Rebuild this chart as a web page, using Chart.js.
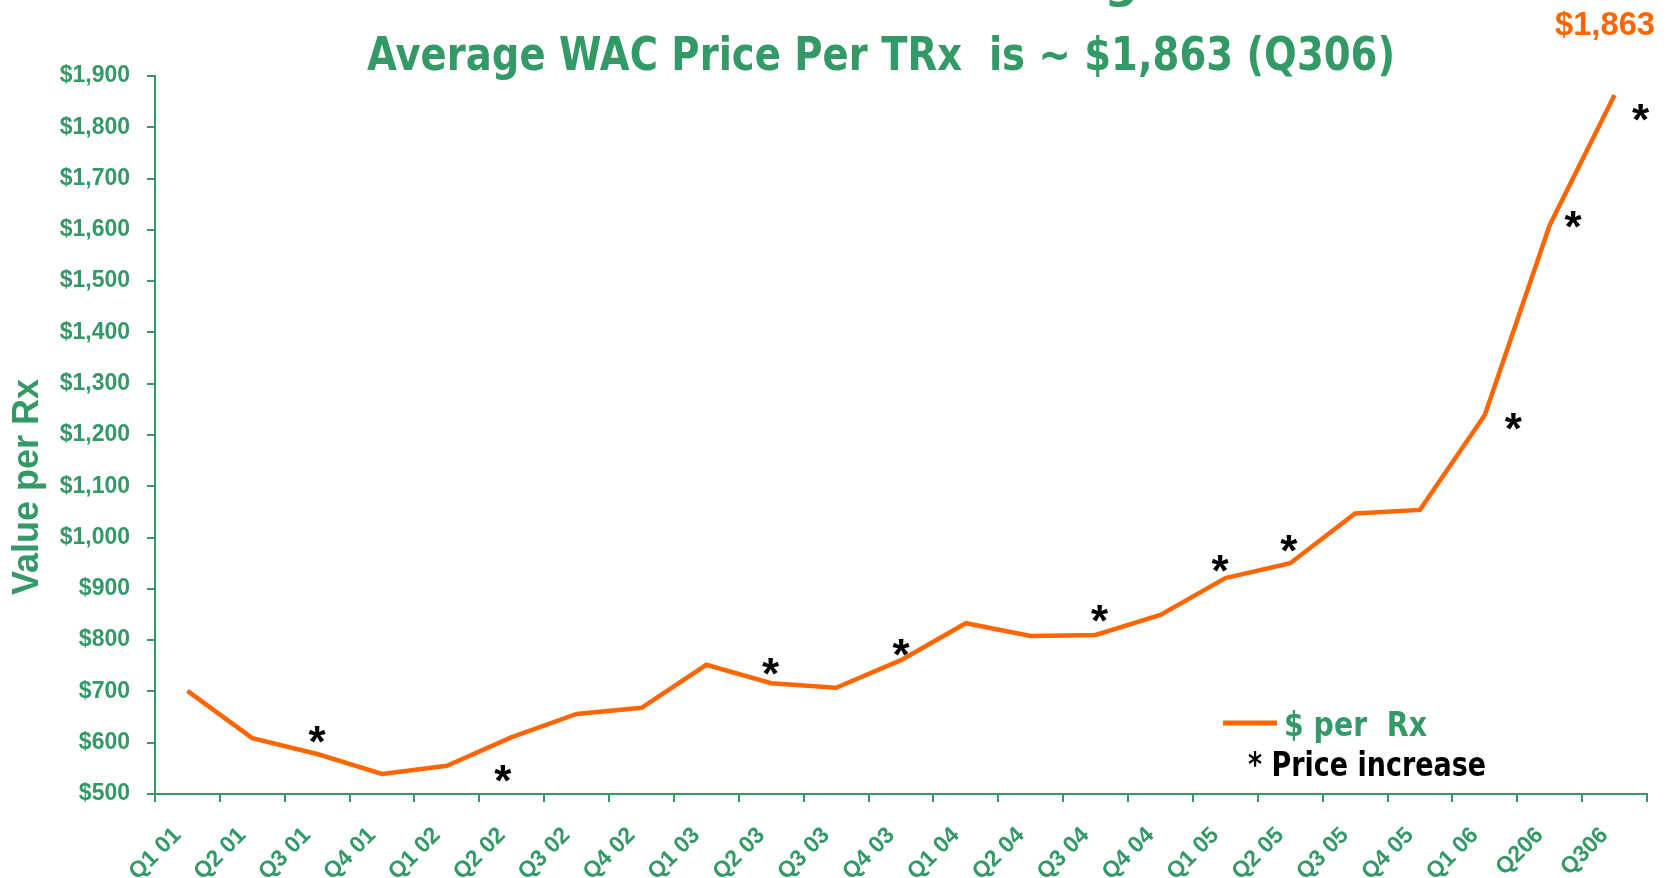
<!DOCTYPE html>
<html>
<head>
<meta charset="utf-8">
<title>Average WAC Price Per TRx</title>
<script src="https://cdn.jsdelivr.net/npm/chart.js@4.4.1/dist/chart.umd.min.js"></script>
<style>
    html, body { margin: 0; padding: 0; background: #ffffff; }
    #wrap { width: 1668px; height: 878px; }
</style>
</head>
<body>
<div id="wrap"><canvas id="wacChart" width="1668" height="878"></canvas></div>
<script>
// --- DATA ---
const quarters = ['Q1 01', 'Q2 01', 'Q3 01', 'Q4 01', 'Q1 02', 'Q2 02', 'Q3 02', 'Q4 02',
    'Q1 03', 'Q2 03', 'Q3 03', 'Q4 03', 'Q1 04', 'Q2 04', 'Q3 04', 'Q4 04',
    'Q1 05', 'Q2 05', 'Q3 05', 'Q4 05', 'Q1 06', 'Q206', 'Q306'];
const pricePerRx = [701, 609, 578, 539, 555, 611, 656, 668, 752, 716, 707, 761,
    833, 808, 810, 849, 921, 950, 1047, 1054, 1239, 1609, 1863];

// "*" price increase marks: position on the category axis (index) and value
const increaseAt = [2.0, 4.86, 8.99, 11.0, 14.06, 15.92, 16.98, 20.44, 21.36, 22.40];
const increaseVal = [620, 544, 753, 790, 857, 955, 993, 1232, 1626, 1834];

const yMin = 500;
const yMax = 1900;
const yStep = 100;

const titleText = 'Average WAC Price Per TRx  is ~ $1,863 (Q306)';
const lastValueText = '$1,863';
const yTitleText = 'Value per Rx';
const footnoteText = '* Price increase';

const GREEN = '#339966';
const ORANGE = '#FF6600';

// draws text squeezed/stretched to a given width
function drawFitted(ctx, text, x, y, width) {
    const w = ctx.measureText(text).width;
    ctx.save();
    ctx.translate(x, y);
    ctx.scale(width / w, 1);
    ctx.textAlign = 'left';
    ctx.fillText(text, 0, 0);
    ctx.restore();
}

const extras = {
    id: 'extras',
    afterDraw(chart) {
        const ctx = chart.ctx;
        const xs = chart.scales.x;
        const ys = chart.scales.y;
        ctx.save();
        ctx.textBaseline = 'alphabetic';

        // remains of the slide heading above (only the descender shows)
        ctx.fillStyle = GREEN;
        ctx.font = 'bold 47px "DejaVu Sans"';
        ctx.textAlign = 'center';
        ctx.fillText('g', 1121, -3);

        // title
        ctx.font = 'bold 47px "DejaVu Sans"';
        drawFitted(ctx, titleText, 367, 70, 1028);

        // last value label
        ctx.fillStyle = ORANGE;
        ctx.font = 'bold 33px "Liberation Sans"';
        drawFitted(ctx, lastValueText, 1555, 35, 100);

        // y axis title
        ctx.fillStyle = GREEN;
        ctx.font = 'bold 36px "Liberation Sans"';
        ctx.save();
        ctx.translate(28, 487);
        ctx.rotate(-Math.PI / 2);
        ctx.textAlign = 'center';
        ctx.textBaseline = 'middle';
        ctx.fillText(yTitleText, 0, 0);
        ctx.restore();

        // asterisks
        ctx.fillStyle = '#000000';
        ctx.font = 'bold 44px "Liberation Sans"';
        ctx.textAlign = 'center';
        increaseAt.forEach((pos, i) => {
            const px = xs.getPixelForValue(pos);
            const py = ys.getPixelForValue(increaseVal[i]);
            ctx.fillText('*', px, py + 25);
        });

        // legend
        const ds = chart.data.datasets[0];
        ctx.strokeStyle = ds.borderColor;
        ctx.lineWidth = 5;
        ctx.beginPath();
        ctx.moveTo(1223, 723);
        ctx.lineTo(1277, 723);
        ctx.stroke();
        ctx.fillStyle = GREEN;
        ctx.font = 'bold 34px "DejaVu Sans"';
        drawFitted(ctx, ds.label, 1284, 736, 143);
        ctx.fillStyle = '#000000';
        drawFitted(ctx, footnoteText, 1248, 776, 238);

        ctx.restore();
    }
};

new Chart(document.getElementById('wacChart'), {
    type: 'line',
    data: {
        labels: quarters,
        datasets: [{
            label: '$ per  Rx',
            data: pricePerRx,
            borderColor: ORANGE,
            backgroundColor: ORANGE,
            borderWidth: 4.5,
            pointRadius: 0,
            tension: 0,
            fill: false
        }]
    },
    options: {
        responsive: false,
        animation: false,
        devicePixelRatio: 1,
        layout: { padding: { top: 76, right: 21, left: 0, bottom: 0 } },
        plugins: {
            legend: { display: false },
            tooltip: { enabled: false },
            title: { display: false }
        },
        scales: {
            x: {
                offset: true,
                grid: { offset: true, drawOnChartArea: false, tickLength: 8, color: GREEN, lineWidth: 2 },
                border: { color: GREEN, width: 2 },
                ticks: {
                    autoSkip: false,
                    maxRotation: 45,
                    minRotation: 45,
                    padding: 20,
                    labelOffset: -10,
                    color: GREEN,
                    font: { family: '"Liberation Sans"', size: 23, weight: 'bold' }
                },
                afterFit: (scale) => { scale.height = 84; }
            },
            y: {
                min: yMin,
                max: yMax,
                grid: { drawOnChartArea: false, tickLength: 8, color: GREEN, lineWidth: 2 },
                border: { color: GREEN, width: 2 },
                ticks: {
                    stepSize: yStep,
                    padding: 17,
                    color: GREEN,
                    font: { family: '"Liberation Sans"', size: 23, weight: 'bold' },
                    callback: (v) => '$' + v.toLocaleString('en-US')
                },
                afterFit: (scale) => { scale.width = 155; }
            }
        }
    },
    plugins: [extras]
});
</script>
</body>
</html>
